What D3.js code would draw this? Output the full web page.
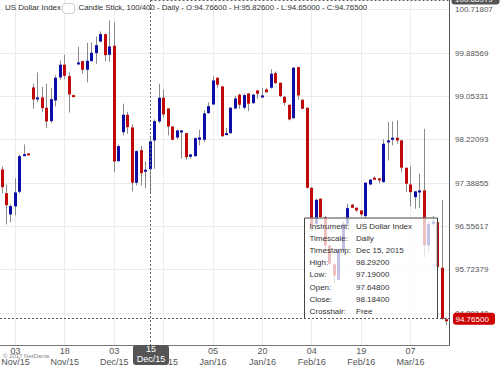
<!DOCTYPE html>
<html><head><meta charset="utf-8">
<script src="https://cdn.jsdelivr.net/npm/d3@7"></script>
<style>
html,body{margin:0;padding:0;background:#fff;}
svg{display:block;font-family:"Liberation Sans",Arial,sans-serif;}
</style></head><body>
<svg id="c" width="500" height="366"></svg>
<script>
// ---------- DATA ----------
const dates = [
"2015-10-29","2015-10-30","2015-11-02","2015-11-03","2015-11-04","2015-11-05","2015-11-06","2015-11-09","2015-11-10","2015-11-11",
"2015-11-12","2015-11-13","2015-11-16","2015-11-17","2015-11-18","2015-11-19","2015-11-20","2015-11-23","2015-11-24","2015-11-25",
"2015-11-26","2015-11-27","2015-11-30","2015-12-01","2015-12-02","2015-12-03","2015-12-04","2015-12-07","2015-12-08","2015-12-09",
"2015-12-10","2015-12-11","2015-12-14","2015-12-15","2015-12-16","2015-12-17","2015-12-18","2015-12-21","2015-12-22","2015-12-23",
"2015-12-24","2015-12-28","2015-12-29","2015-12-30","2015-12-31","2016-01-01","2016-01-04","2016-01-05","2016-01-06","2016-01-07",
"2016-01-08","2016-01-11","2016-01-12","2016-01-13","2016-01-14","2016-01-15","2016-01-18","2016-01-19","2016-01-20","2016-01-21",
"2016-01-22","2016-01-25","2016-01-26","2016-01-27","2016-01-28","2016-01-29","2016-02-01","2016-02-02","2016-02-03","2016-02-04",
"2016-02-05","2016-02-08","2016-02-09","2016-02-10","2016-02-11","2016-02-12","2016-02-15","2016-02-16","2016-02-17","2016-02-18",
"2016-02-19","2016-02-22","2016-02-23","2016-02-24","2016-02-25","2016-02-26","2016-02-29","2016-03-01","2016-03-02","2016-03-03",
"2016-03-04","2016-03-07","2016-03-08","2016-03-09","2016-03-10","2016-03-11","2016-03-14","2016-03-15","2016-03-16","2016-03-17"];

const open = [
97.644,97.188,96.779,96.933,97.215,97.907,97.951,99.219,99.002,99.027,
98.829,98.571,98.969,99.411,99.655,99.436,99.071,99.674,99.724,99.559,
99.724,99.878,100.102,100.243,99.847,100.020,97.803,98.360,98.694,98.450,
97.388,98.014,97.611,97.648,98.201,98.566,99.021,98.815,98.469,98.258,
98.354,98.341,97.887,97.899,98.214,98.214,98.725,98.892,99.405,99.238,
98.316,98.341,98.815,99.079,98.829,99.103,98.917,99.161,99.027,99.180,
99.213,99.494,99.309,99.040,98.886,98.629,99.609,98.982,98.829,97.292,
96.600,97.081,96.727,96.183,95.819,95.525,96.090,96.600,96.965,96.908,
96.856,96.747,97.355,97.484,97.471,97.400,98.176,98.214,98.252,98.201,
97.676,97.355,97.111,97.221,97.240,96.183,96.600,96.631,95.755,94.766];

const high = [
97.701,97.350,96.971,97.476,97.926,98.124,97.955,99.290,99.507,99.232,
99.290,99.205,99.449,99.737,99.847,99.507,99.080,100.001,99.732,100.077,
100.083,100.198,100.295,100.250,100.506,100.467,98.124,98.906,98.752,98.508,
98.014,98.091,97.797,98.292,98.604,99.290,99.180,98.820,98.475,98.406,
98.400,98.345,97.940,98.258,98.406,98.777,98.936,99.430,99.410,99.240,
98.445,98.840,99.059,99.098,99.098,99.110,99.098,99.175,99.205,99.213,
99.570,99.526,99.310,99.045,98.890,99.609,99.615,98.990,98.835,97.300,
97.080,97.090,96.750,96.190,95.840,96.100,96.650,96.985,96.985,96.910,
96.860,97.400,97.460,97.509,97.480,98.220,98.552,98.566,98.585,98.210,
97.680,97.701,97.230,97.561,98.425,96.650,96.750,96.700,97.061,94.800];

const low = [
97.188,96.587,96.631,96.760,97.177,97.903,97.928,98.810,98.936,98.752,
98.437,98.541,98.854,99.367,99.378,98.738,99.045,99.655,99.482,99.315,
99.718,99.674,100.083,99.724,99.712,97.592,97.797,98.297,98.329,97.221,
97.336,97.336,97.284,97.190,97.657,98.533,98.642,98.297,98.201,98.220,
97.849,97.830,97.849,97.893,98.105,98.168,98.714,98.880,99.213,98.264,
98.310,98.330,98.802,98.810,98.802,98.763,98.906,99.002,99.020,99.117,
99.194,99.290,99.032,98.873,98.585,98.620,98.982,98.800,97.273,96.450,
96.520,96.700,96.060,95.800,95.459,95.500,96.050,96.550,96.900,96.823,
96.740,96.700,97.340,97.446,97.380,97.390,97.816,98.105,98.137,97.592,
97.207,96.933,96.889,96.900,95.959,96.050,96.550,95.740,94.760,94.650];

const close = [
97.303,96.958,96.939,97.202,97.899,97.937,97.932,98.988,99.027,98.821,
98.566,98.994,99.405,99.655,99.443,99.084,99.052,99.699,99.559,99.732,
99.885,100.031,100.243,99.839,100.006,97.797,98.091,98.694,98.456,97.388,
97.995,97.572,97.638,98.184,98.571,99.021,98.700,98.469,98.214,98.393,
98.393,97.880,97.932,98.245,98.258,98.719,98.860,99.353,99.271,98.283,
98.341,98.829,99.007,98.886,99.071,98.906,99.079,99.098,99.065,99.128,
99.482,99.301,99.052,98.925,98.604,99.597,99.065,98.810,97.292,96.550,
97.061,96.730,96.183,95.832,95.607,96.087,96.600,96.900,96.908,96.856,
96.779,97.388,97.446,97.457,97.451,98.137,98.201,98.252,98.201,97.676,
97.369,97.207,97.221,97.240,96.183,96.600,96.645,95.767,94.775,94.765];

const yTickValues = [100.71807, 99.88569, 99.05331, 98.22093, 97.38855, 96.55617, 95.72379, 94.89140];
const xTickDates = ["2015-11-03","2015-11-18","2015-12-03","2015-12-18","2016-01-05","2016-01-20","2016-02-04","2016-02-19","2016-03-07"];

const instrument = "US Dollar Index";
const headerText = "Candle Stick, 100/400 - Daily - O:94.76600 - H:95.82600 - L:94.65000 - C:94.76500";
const crossDate = "2015-12-15";
const crossPriceLabel = "100.68979";
const lastPrice = 94.765;
const copyright = "\u00A9 2017 NetDania";

// ---------- CHART ----------
const svg = d3.select("#c");
const plotR = 449.5, plotB = 345.5;
const parse = d3.timeParse("%Y-%m-%d");
const fDay = d3.timeFormat("%d"), fMon = d3.timeFormat("%b/%y"), fStamp = d3.timeFormat("%b %d, %Y");

const x = d3.scalePoint().domain(dates).range([1.5, 446]);
const y = d3.scaleLinear().domain(d3.extent(yTickValues)).range([312.7, 9.4]);

const UP = "#0c0ca6", DOWN = "#c00a0a", WICK = "#8a8a8a", GRID = "#ebebeb", AX = "#555";

// grid
svg.append("g").selectAll("line").data(yTickValues).join("line")
  .attr("x1", 0).attr("x2", plotR).attr("y1", d => Math.round(y(d)) + 0.5).attr("y2", d => Math.round(y(d)) + 0.5)
  .attr("stroke", GRID);
svg.append("g").selectAll("line").data(xTickDates).join("line")
  .attr("x1", d => Math.round(x(d)) + 0.5).attr("x2", d => Math.round(x(d)) + 0.5).attr("y1", 0).attr("y2", plotB)
  .attr("stroke", GRID);

// candles
const idx = d3.range(dates.length);
const cg = svg.append("g");
cg.selectAll("line").data(idx).join("line")
  .attr("x1", i => Math.round(x(dates[i])) + 0.5).attr("x2", i => Math.round(x(dates[i])) + 0.5)
  .attr("y1", i => y(high[i])).attr("y2", i => y(low[i]))
  .attr("stroke", WICK).attr("stroke-width", 1);
cg.selectAll("rect").data(idx).join("rect")
  .attr("x", i => Math.round(x(dates[i])) - 1)
  .attr("width", 3)
  .attr("y", i => y(Math.max(open[i], close[i])))
  .attr("height", i => Math.max(2, Math.abs(y(open[i]) - y(close[i]))))
  .attr("fill", i => close[i] >= open[i] ? UP : DOWN);

// tooltip box (semi transparent)
const tx = 304, ty = 217.5, tw = 134, th = 101.5;
svg.append("rect").attr("x", tx).attr("y", ty).attr("width", tw).attr("height", th)
  .attr("fill", "#fff").attr("fill-opacity", 0.74);
svg.append("path").attr("d", `M${tx + 0.5},${ty + th}V${ty + 0.5}H${tx + tw - 0.5}V${ty + th}`)
  .attr("fill", "none").attr("stroke", "#444");

// last price dashed line
const yl = Math.round(y(lastPrice)) - 0.5;
svg.append("line").attr("x1", 0).attr("x2", plotR).attr("y1", yl).attr("y2", yl)
  .attr("stroke", "#555").attr("stroke-dasharray", "2,2");

// crosshair
const cx = Math.round(x(crossDate)) + 0.5;
svg.append("line").attr("x1", cx).attr("x2", cx).attr("y1", 0).attr("y2", plotB)
  .attr("stroke", "#666").attr("stroke-dasharray", "2,2");
svg.append("line").attr("x1", cx).attr("x2", plotR).attr("y1", 0.5).attr("y2", 0.5)
  .attr("stroke", "#666").attr("stroke-dasharray", "2,2");

// tooltip text
const ci = dates.indexOf(crossDate);
const fmt = d3.format(".5f");
const rows = [
  ["Instrument:", instrument],
  ["Timescale:", "Daily"],
  ["Timestamp:", fStamp(parse(crossDate))],
  ["High:", fmt(high[ci])],
  ["Low:", fmt(low[ci])],
  ["Open:", fmt(open[ci])],
  ["Close:", fmt(close[ci])],
  ["Crosshair:", "Free"]
];
const tt = svg.append("g").attr("font-size", 8).attr("fill", "#333");
rows.forEach((r, k) => {
  const yy = 228.6 + 12.2 * k;
  tt.append("text").attr("x", 309.5).attr("y", yy).text(r[0]);
  tt.append("text").attr("x", 356).attr("y", yy).text(r[1]);
});

// axes
const yAxis = d3.axisRight(y).tickValues(yTickValues).tickSize(0).tickPadding(5.5).tickFormat(d3.format(".5f"));
const gy = svg.append("g").attr("transform", `translate(${plotR},0)`).call(yAxis);
gy.select(".domain").remove();
gy.selectAll("text").attr("font-size", 8).attr("fill", "#555").attr("font-family", "Liberation Sans, Arial, sans-serif");

const xAxis = d3.axisBottom(x).tickValues(xTickDates).tickSize(0).tickFormat("");
const gx = svg.append("g").attr("transform", `translate(0,${plotB - 0.5})`).call(xAxis);
gx.select(".domain").remove();
gx.selectAll(".tick text").each(function(d) {
  const t = d3.select(this).attr("dy", null).attr("y", 0).attr("font-size", 9).attr("fill", "#555")
    .attr("font-family", "Liberation Sans, Arial, sans-serif");
  t.append("tspan").attr("x", 0).attr("y", 9).text(fDay(parse(d)));
  t.append("tspan").attr("x", 0).attr("y", 20).text(fMon(parse(d)));
});

// axis lines
svg.append("line").attr("x1", plotR).attr("x2", plotR).attr("y1", 0).attr("y2", plotB).attr("stroke", AX);
svg.append("line").attr("x1", 0).attr("x2", plotR).attr("y1", plotB).attr("y2", plotB).attr("stroke", "#777");

// copyright
svg.append("text").attr("x", 3).attr("y", 357.5).attr("font-size", 6).attr("fill", "#888").text(copyright);

// crosshair x label
const xl = svg.append("g");
xl.append("rect").attr("x", cx - 17.5).attr("y", 345).attr("width", 36).attr("height", 20).attr("rx", 3).attr("fill", "#555");
xl.append("text").attr("x", cx + 0.5).attr("y", 352.3).attr("text-anchor", "middle").attr("font-size", 9).attr("fill", "#fff").text(fDay(parse(crossDate)));
xl.append("text").attr("x", cx + 0.5).attr("y", 361.5).attr("text-anchor", "middle").attr("font-size", 9).attr("fill", "#fff").text(fMon(parse(crossDate)));

// crosshair y label (top)
svg.append("rect").attr("x", 451.5).attr("y", -7).attr("width", 48).attr("height", 11.5).attr("rx", 3).attr("fill", "#555");
svg.append("text").attr("x", 455).attr("y", 1.5).attr("font-size", 8).attr("fill", "#fff").text(crossPriceLabel);

// last price label
const ly = y(lastPrice);
svg.append("rect").attr("x", 453).attr("y", ly - 6.5).attr("width", 42).attr("height", 12).attr("rx", 3).attr("fill", "#cc0000");
svg.append("text").attr("x", 455.5).attr("y", ly + 2.8).attr("font-size", 8).attr("fill", "#fff").text(fmt(lastPrice));

// header
svg.append("text").attr("x", 5).attr("y", 10.2).attr("font-size", 8).attr("fill", "#333").text(instrument);
svg.append("rect").attr("x", 62.5).attr("y", 3.5).attr("width", 12).attr("height", 10).attr("rx", 3)
  .attr("fill", "#fff").attr("stroke", "#ccc");
svg.append("text").attr("x", 78.5).attr("y", 10.2).attr("font-size", 7.8).attr("fill", "#333").text(headerText);
</script>
</body></html>
